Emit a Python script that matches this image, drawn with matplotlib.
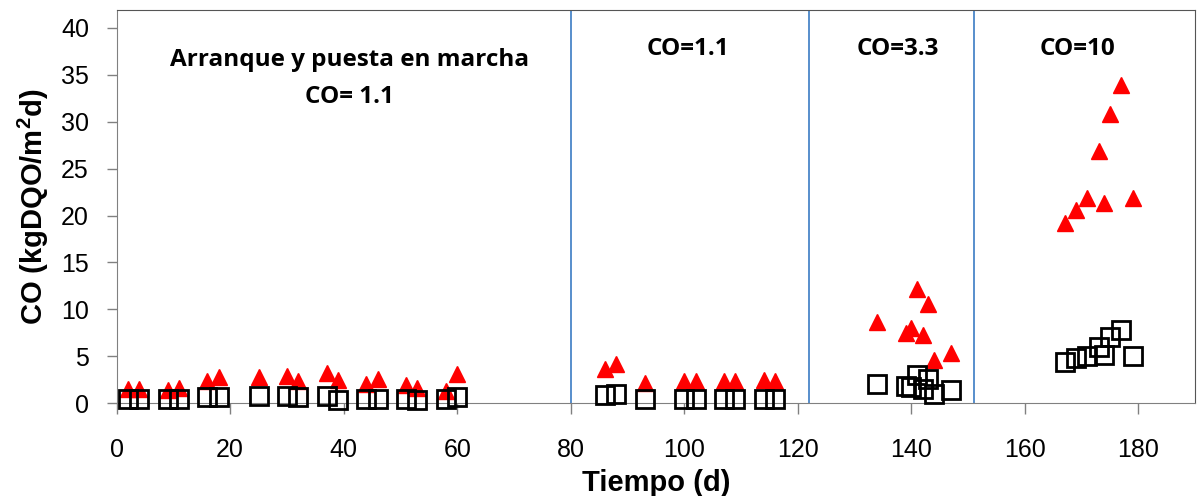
import matplotlib
matplotlib.use("Agg")
import matplotlib.pyplot as plt

plt.rcParams['mathtext.fontset'] = 'custom'
plt.rcParams['mathtext.rm'] = 'Liberation Sans'
plt.rcParams['mathtext.bf'] = 'Liberation Sans:bold'

# Data (day, value)
days_tri = [2, 4, 9, 11, 16, 18, 25, 30, 32, 37, 39, 44, 46, 51, 53, 58, 60,
            86, 88, 93, 100, 102, 107, 109, 114, 116,
            134, 139, 140, 141, 142, 143, 144, 147,
            167, 169, 171, 173, 174, 175, 177, 179]
co_tri = [1.5, 1.5, 1.4, 1.6, 2.4, 2.8, 2.8, 2.9, 2.4, 3.2, 2.5, 2.1, 2.6, 1.9, 1.6, 1.3, 3.1,
          3.7, 4.2, 2.2, 2.4, 2.4, 2.4, 2.4, 2.5, 2.4,
          8.7, 7.5, 8.0, 12.2, 7.3, 10.6, 4.6, 5.3,
          19.2, 20.6, 21.9, 26.9, 21.3, 30.8, 33.9, 21.9]

days_sq = [2, 4, 9, 11, 16, 18, 25, 30, 32, 37, 39, 44, 46, 51, 53, 58, 60,
           86, 88, 93, 100, 102, 107, 109, 114, 116,
           134, 139, 140, 141, 142, 143, 144, 147,
           167, 169, 171, 173, 174, 175, 177, 179]
co_sq = [0.5, 0.4, 0.45, 0.45, 0.7, 0.7, 0.75, 0.75, 0.7, 0.75, 0.35, 0.5, 0.5, 0.5, 0.3, 0.4, 0.7,
         0.9, 1.0, 0.45, 0.5, 0.5, 0.5, 0.5, 0.5, 0.5,
         2.0, 1.8, 1.7, 3.0, 1.5, 2.6, 1.0, 1.4,
         4.4, 4.8, 5.0, 6.0, 5.15, 7.1, 7.8, 5.0]

phase_bounds = [80, 122, 151]
phase_labels = ["Arranque y puesta en marcha\nCO= 1.1", "CO=1.1", "CO=3.3", "CO=10"]
phase_label_x = [41, 100.7, 137.6, 169.3]
phase_label_y = [34.6, 37.7, 37.7, 37.7]

x_ticks = [0, 20, 40, 60, 80, 100, 120, 140, 160, 180]
y_ticks = [0, 5, 10, 15, 20, 25, 30, 35, 40]

fig = plt.figure(figsize=(11.99, 4.96), dpi=100)
ax = fig.add_axes([0.0973, 0.187, 0.9994 - 0.0973 - 0.0027, 0.980 - 0.187])

for b in phase_bounds:
    ax.axvline(b, color='#4a86c8', lw=1.3, zorder=1)

ax.plot(days_tri, co_tri, linestyle='none', marker='^', markersize=11,
        color='#ff0000', markeredgecolor='#ff0000', zorder=3, clip_on=False)
ax.plot(days_sq, co_sq, linestyle='none', marker='s', markersize=13.5,
        markerfacecolor='none', markeredgecolor='black', markeredgewidth=2.0, zorder=4,
        clip_on=False)

for lab, lx, ly in zip(phase_labels, phase_label_x, phase_label_y):
    ax.text(lx, ly, lab, ha='center', va='center', fontsize=17.5, fontweight='bold',
            family='Open Sans', linespacing=1.7)

ax.set_xlim(0, 190)
ax.set_ylim(0, 41.9)
ax.set_xticks(x_ticks)
ax.set_yticks(y_ticks)
ax.tick_params(axis='x', direction='out', length=8, width=1, color='#808080', pad=17,
               labelsize=18)
ax.tick_params(axis='y', direction='out', length=7, width=1, color='#808080', pad=13,
               labelsize=18)
for lab in ax.get_xticklabels() + ax.get_yticklabels():
    lab.set_family('Liberation Sans')

for s in ['left', 'bottom']:
    ax.spines[s].set_color('#808080')
for s in ['top', 'right']:
    ax.spines[s].set_color('#555555')

ax.set_xlabel('Tiempo (d)', fontsize=21, fontweight='bold', family='Liberation Sans', labelpad=5)
ax.set_ylabel('CO (kgDQO/m$^\\mathbf{2}$d)', fontsize=21, fontweight='bold',
              family='Liberation Sans', labelpad=7)

fig.savefig('out.png', dpi=100)
